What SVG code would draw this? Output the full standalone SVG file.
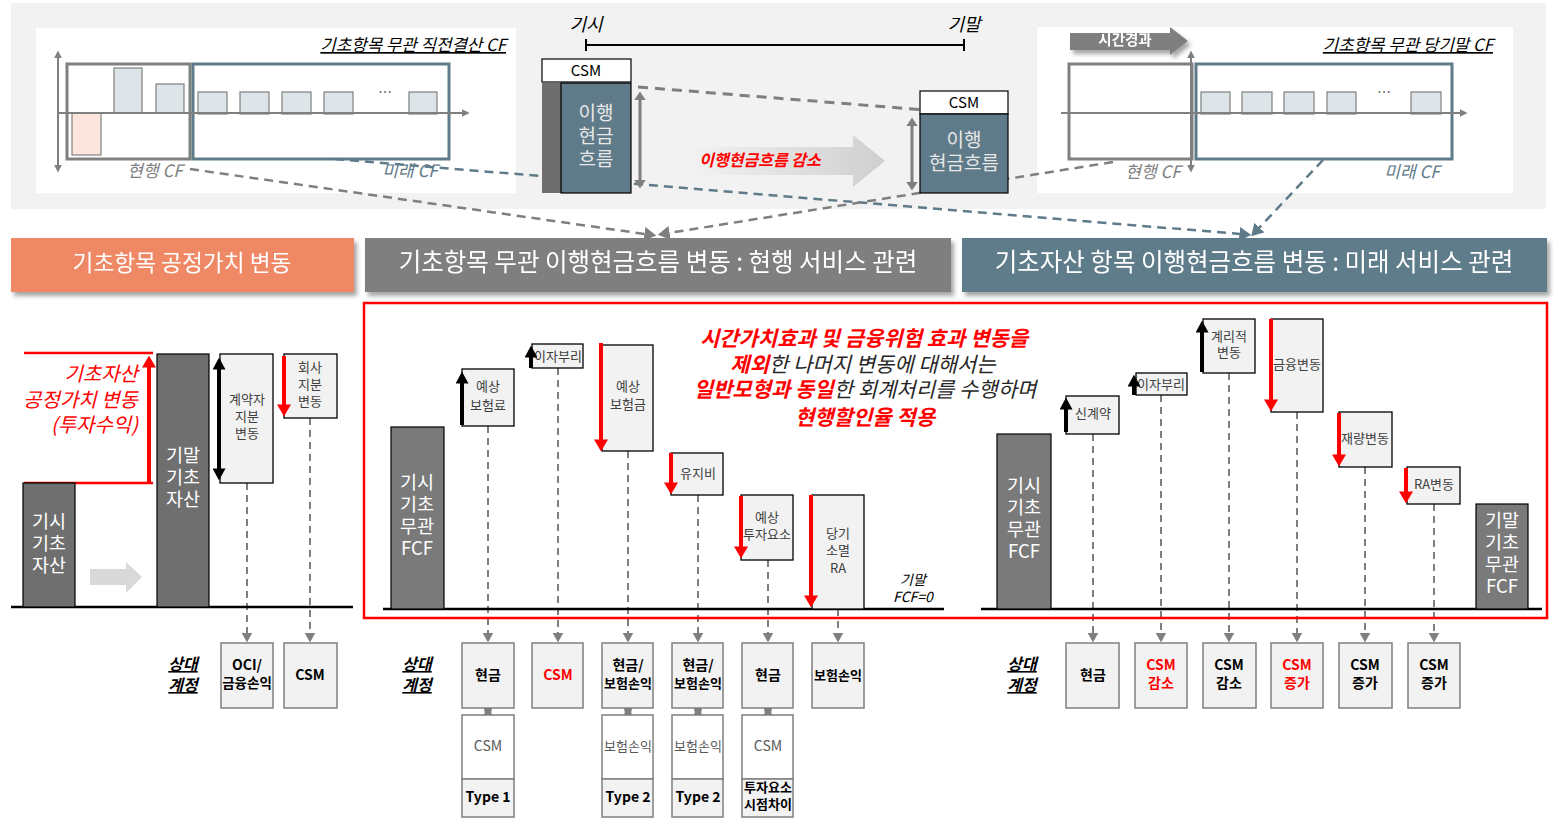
<svg xmlns="http://www.w3.org/2000/svg" width="1560" height="824" viewBox="0 0 1560 824">
<style>
text{font-family:"Noto Sans CJK KR","Noto Sans",sans-serif;text-anchor:middle}
.it{font-style:italic}
.b{font-weight:bold}
.lb{font-size:13px;fill:#404040}
.ac{font-size:14px;font-weight:bold;fill:#000}
.bar{font-size:18.5px;fill:#fff}
.rel{font-size:16px;font-style:italic;font-weight:bold;text-decoration:underline;fill:#000}
.box{fill:#f2f2f2;stroke:#000;stroke-width:1.3}
.abox{fill:#f2f2f2;stroke:#7f7f7f;stroke-width:1.5}
.dk{fill:#7a7a7a;stroke:#000;stroke-width:1.2}
.cfb{fill:#dee5e8;stroke:#7f7f7f;stroke-width:1.2}
.dash{stroke:#7f7f7f;stroke-width:2;stroke-dasharray:7 5;fill:none}
.tk{stroke-width:4;fill:none}
.red{stroke:#ff0000}
.blk{stroke:#000}
.ban{font-size:24.5px;fill:#fff}
</style>
<defs>
<filter id="sh" x="-5%" y="-20%" width="115%" height="160%"><feDropShadow dx="3" dy="4" stdDeviation="2" flood-color="#000" flood-opacity="0.35"/></filter>
<linearGradient id="gArr" x1="0" x2="1" y1="0" y2="0"><stop offset="0" stop-color="#f2f2f2"/><stop offset="1" stop-color="#cfcfcf"/></linearGradient>
<marker id="mr" viewBox="0 0 10 10" refX="0.5" refY="5" markerWidth="12" markerHeight="14" preserveAspectRatio="none" markerUnits="userSpaceOnUse" orient="auto-start-reverse"><path d="M0,0L10,5L0,10z" fill="#ff0000"/></marker>
<marker id="mb" viewBox="0 0 10 10" refX="0.5" refY="5" markerWidth="12" markerHeight="13" preserveAspectRatio="none" markerUnits="userSpaceOnUse" orient="auto-start-reverse"><path d="M0,0L10,5L0,10z" fill="#000"/></marker>
<marker id="mg" viewBox="0 0 10 10" refX="0.5" refY="5" markerWidth="9" markerHeight="12" preserveAspectRatio="none" markerUnits="userSpaceOnUse" orient="auto-start-reverse"><path d="M0,0L10,5L0,10z" fill="#7f7f7f"/></marker>
<marker id="mgd" viewBox="0 0 10 10" refX="0.5" refY="5" markerWidth="10" markerHeight="11" preserveAspectRatio="none" markerUnits="userSpaceOnUse" orient="auto-start-reverse"><path d="M0,0L10,5L0,10z" fill="#7f7f7f"/></marker>
<marker id="ma" viewBox="0 0 10 10" refX="0.5" refY="5" markerWidth="8" markerHeight="8" preserveAspectRatio="none" markerUnits="userSpaceOnUse" orient="auto-start-reverse"><path d="M0,0L10,5L0,10z" fill="#7f7f7f"/></marker>
<marker id="mtg" viewBox="0 0 10 10" refX="0.5" refY="5" markerWidth="12" markerHeight="14" preserveAspectRatio="none" markerUnits="userSpaceOnUse" orient="auto"><path d="M0,0L10,5L0,10z" fill="#7f7f7f"/></marker>
<marker id="mtb" viewBox="0 0 10 10" refX="0.5" refY="5" markerWidth="12" markerHeight="14" preserveAspectRatio="none" markerUnits="userSpaceOnUse" orient="auto"><path d="M0,0L10,5L0,10z" fill="#5f7a88"/></marker>
</defs>

<rect x="11" y="3" width="1535" height="206" fill="#f2f2f2"/>

<g id="cf-prev">
<rect x="36" y="28" width="480" height="165" fill="#fff"/>
<text x="506" y="51" class="it" font-size="16.8" text-decoration="underline" style="text-anchor:end">기초항목 무관 직전결산 CF</text>
<rect x="72" y="113" width="29" height="42" fill="#fbe5dc" stroke="#7f7f7f" stroke-width="1.2"/>
<rect x="114" y="68" width="28" height="45" class="cfb"/>
<rect x="156" y="84" width="28" height="29" class="cfb"/>
<rect x="198" y="92" width="29" height="22" class="cfb"/>
<rect x="240" y="92" width="29" height="22" class="cfb"/>
<rect x="282" y="92" width="29" height="22" class="cfb"/>
<rect x="324" y="92" width="29" height="22" class="cfb"/>
<rect x="409" y="92" width="28" height="22" class="cfb"/>
<text x="385" y="97" font-size="14" fill="#404040">…</text>
<rect x="67" y="64" width="123" height="95" fill="none" stroke="#808080" stroke-width="3"/>
<rect x="193" y="64" width="256" height="95" fill="none" stroke="#5f7a88" stroke-width="3"/>
<line x1="58" y1="58" x2="58" y2="165" stroke="#7f7f7f" stroke-width="2" marker-start="url(#ma)" marker-end="url(#ma)"/>
<line x1="58" y1="113" x2="462" y2="113" stroke="#7f7f7f" stroke-width="2" marker-end="url(#ma)"/>
<text x="155" y="177" class="it" font-size="17" fill="#808080">현행 CF</text>
<text x="410" y="177" class="it" font-size="17" fill="#5f7a88">미래 CF</text>
</g>

<g id="cf-end">
<rect x="1037" y="27" width="476" height="166" fill="#fff"/>
<text x="1493" y="51" class="it" font-size="16.8" text-decoration="underline" style="text-anchor:end">기초항목 무관 당기말 CF</text>
<rect x="1201" y="92" width="29" height="22" class="cfb"/>
<rect x="1242" y="92" width="30" height="22" class="cfb"/>
<rect x="1284" y="92" width="30" height="22" class="cfb"/>
<rect x="1327" y="92" width="29" height="22" class="cfb"/>
<rect x="1411" y="92" width="30" height="22" class="cfb"/>
<text x="1384" y="97" font-size="14" fill="#404040">…</text>
<rect x="1069" y="64" width="123" height="95" fill="none" stroke="#808080" stroke-width="3"/>
<rect x="1196" y="64" width="256" height="95" fill="none" stroke="#5f7a88" stroke-width="3"/>
<line x1="1191" y1="58" x2="1191" y2="165" stroke="#7f7f7f" stroke-width="2" marker-start="url(#ma)" marker-end="url(#ma)"/>
<line x1="1061" y1="113" x2="1460" y2="113" stroke="#7f7f7f" stroke-width="2" marker-end="url(#ma)"/>
<text x="1153" y="178" class="it" font-size="17" fill="#808080">현행 CF</text>
<text x="1412" y="178" class="it" font-size="17" fill="#5f7a88">미래 CF</text>
<g id="time-arrow" filter="url(#sh)">
<polygon points="1070,33 1170,33 1170,27 1188,41 1170,55 1170,50 1070,50" fill="#7f7f7f"/>
<text x="1125" y="45" font-size="14.5" class="b" fill="#fff">시간경과</text>
</g>
</g>

<g id="connectors">
<line x1="190" y1="169" x2="645" y2="234" class="dash" style="stroke-width:2.5;stroke-dasharray:9 6" marker-end="url(#mtg)"/>
<line x1="335" y1="159" x2="1240" y2="234" class="dash" style="stroke:#5f7a88;stroke-width:2.5;stroke-dasharray:9 6" marker-end="url(#mtb)"/>
<line x1="1113" y1="162" x2="669" y2="233" class="dash" style="stroke-width:2.5;stroke-dasharray:9 6" marker-end="url(#mtg)"/>
<line x1="1323" y1="160" x2="1259" y2="228" class="dash" style="stroke:#5f7a88;stroke-width:2.5;stroke-dasharray:9 6" marker-end="url(#mtb)"/>
<line x1="638" y1="87" x2="963" y2="113" class="dash" style="stroke-width:3;stroke-dasharray:10 7"/>
<line x1="247" y1="483" x2="247" y2="633" class="dash" marker-end="url(#mgd)"/>
<line x1="310" y1="418" x2="310" y2="633" class="dash" marker-end="url(#mgd)"/>
<line x1="488" y1="426" x2="488" y2="633" class="dash" marker-end="url(#mgd)"/>
<line x1="558" y1="368" x2="558" y2="633" class="dash" marker-end="url(#mgd)"/>
<line x1="628" y1="451" x2="628" y2="633" class="dash" marker-end="url(#mgd)"/>
<line x1="698" y1="495" x2="698" y2="633" class="dash" marker-end="url(#mgd)"/>
<line x1="768" y1="560" x2="768" y2="633" class="dash" marker-end="url(#mgd)"/>
<line x1="838" y1="609" x2="838" y2="633" class="dash" marker-end="url(#mgd)"/>
<line x1="1093" y1="434" x2="1093" y2="633" class="dash" marker-end="url(#mgd)"/>
<line x1="1161" y1="395" x2="1161" y2="633" class="dash" marker-end="url(#mgd)"/>
<line x1="1229" y1="373" x2="1229" y2="633" class="dash" marker-end="url(#mgd)"/>
<line x1="1297" y1="412" x2="1297" y2="633" class="dash" marker-end="url(#mgd)"/>
<line x1="1365" y1="467" x2="1365" y2="633" class="dash" marker-end="url(#mgd)"/>
<line x1="1434" y1="504" x2="1434" y2="633" class="dash" marker-end="url(#mgd)"/>
<g fill="#7f7f7f">
<circle cx="488" cy="709.5" r="3.8"/><circle cx="488" cy="714.5" r="3.8"/>
<circle cx="628" cy="709.5" r="3.8"/><circle cx="628" cy="714.5" r="3.8"/>
<circle cx="698" cy="709.5" r="3.8"/><circle cx="698" cy="714.5" r="3.8"/>
<circle cx="768" cy="709.5" r="3.8"/><circle cx="768" cy="714.5" r="3.8"/>
</g>
</g>

<g id="cf-mid">
<text x="586" y="31" class="it" font-size="18">기시</text>
<text x="964" y="31" class="it" font-size="18">기말</text>
<line x1="586" y1="45" x2="964" y2="45" stroke="#000" stroke-width="2"/>
<line x1="586" y1="39" x2="586" y2="51" stroke="#000" stroke-width="2"/>
<line x1="964" y1="39" x2="964" y2="51" stroke="#000" stroke-width="2"/>
<rect x="542" y="59" width="89" height="23" fill="#fff" stroke="#000" stroke-width="1.2"/>
<text x="586" y="76" font-size="15" fill="#000">CSM</text>
<rect x="542" y="83" width="19" height="110" fill="#6e6e6e"/>
<rect x="561" y="83" width="70" height="110" fill="#5f7a88" stroke="#000" stroke-width="1.2"/>
<text font-size="19" fill="#e8e8e8"><tspan x="596" y="120">이행</tspan><tspan x="596" y="143">현금</tspan><tspan x="596" y="166">흐름</tspan></text>
<line x1="640" y1="100" x2="640" y2="180" stroke="#7f7f7f" stroke-width="3" marker-start="url(#mg)" marker-end="url(#mg)"/>
<polygon points="690,147 853,147 853,135 885,161 853,187 853,175 690,175" fill="url(#gArr)"/>
<text x="760" y="166" class="it b" font-size="16" fill="#ff0000">이행현금흐름 감소</text>
<rect x="920" y="91" width="88" height="23" fill="#fff" stroke="#000" stroke-width="1.2"/>
<text x="964" y="108" font-size="15" fill="#000">CSM</text>
<rect x="920" y="114" width="88" height="79" fill="#5f7a88" stroke="#000" stroke-width="1.2"/>
<text font-size="19" fill="#e8e8e8"><tspan x="964" y="147">이행</tspan><tspan x="964" y="170">현금흐름</tspan></text>
<line x1="912" y1="126" x2="912" y2="182" stroke="#7f7f7f" stroke-width="3" marker-start="url(#mg)" marker-end="url(#mg)"/>
</g>

<g id="banner-fv" filter="url(#sh)">
<rect x="11" y="238" width="343" height="54" fill="#ef8865"/>
<text x="182" y="271" class="ban" style="font-size:22.7px">기초항목 공정가치 변동</text>
</g>
<g id="banner-current" filter="url(#sh)">
<rect x="365" y="238" width="586" height="54" fill="#7f7f7f"/>
<text x="658" y="271" class="ban">기초항목 무관 이행현금흐름 변동 : 현행 서비스 관련</text>
</g>
<g id="banner-future" filter="url(#sh)">
<rect x="962" y="238" width="585" height="54" fill="#5f7b8a"/>
<text x="1254" y="271" class="ban">기초자산 항목 이행현금흐름 변동 : 미래 서비스 관련</text>
</g>

<rect id="focus-frame" x="364" y="303" width="1183" height="315" fill="none" stroke="#ff0000" stroke-width="2.5"/>

<g id="left-section">
<line x1="11" y1="607" x2="353" y2="607" stroke="#000" stroke-width="2.5"/>
<line x1="24" y1="353" x2="153" y2="353" stroke="#ff0000" stroke-width="2.5"/>
<line x1="24" y1="483" x2="153" y2="483" stroke="#ff0000" stroke-width="2.5"/>
<line x1="149" y1="483" x2="149" y2="367" class="tk red" marker-end="url(#mr)"/>
<text class="it" font-size="20" fill="#ff0000" style="text-anchor:end"><tspan x="138" y="381">기초자산</tspan><tspan x="138" y="407">공정가치 변동</tspan><tspan x="138" y="432">(투자수익)</tspan></text>
<polygon points="90,569 126,569 126,562 142,577 126,593 126,585 90,585" fill="#d9d9d9"/>
</g>
<g id="bar-begin-asset">
<rect x="23" y="483" width="52" height="124" fill="#6f6f6f" stroke="#000" stroke-width="1.2"/>
<text class="bar"><tspan x="49" y="528">기시</tspan><tspan x="49" y="550">기초</tspan><tspan x="49" y="572">자산</tspan></text>
</g>
<g id="bar-end-asset">
<rect x="157" y="354" width="52" height="253" fill="#6f6f6f" stroke="#000" stroke-width="1.2"/>
<text class="bar"><tspan x="183" y="462">기말</tspan><tspan x="183" y="484">기초</tspan><tspan x="183" y="506">자산</tspan></text>
</g>
<g id="holder-share">
<rect x="220" y="354" width="53" height="129" class="box"/>
<text class="lb"><tspan x="247" y="404">계약자</tspan><tspan x="247" y="421">지분</tspan><tspan x="247" y="438">변동</tspan></text>
<line x1="219" y1="369" x2="219" y2="469" class="tk blk" marker-start="url(#mb)" marker-end="url(#mb)"/>
</g>
<g id="company-share">
<rect x="284" y="354" width="53" height="64" class="box"/>
<text class="lb"><tspan x="310" y="372">회사</tspan><tspan x="310" y="389">지분</tspan><tspan x="310" y="406">변동</tspan></text>
<line x1="284" y1="356" x2="284" y2="405" class="tk red" marker-end="url(#mr)"/>
</g>
<text class="rel"><tspan x="183" y="670">상대</tspan><tspan x="183" y="691">계정</tspan></text>
<g id="acc-oci"><rect x="221" y="643" width="52" height="65" class="abox"/><text class="ac"><tspan x="247" y="670">OCI/</tspan><tspan x="247" y="688" style="font-size:13.5px">금융손익</tspan></text></g>
<g id="acc-csm-l"><rect x="284" y="643" width="53" height="65" class="abox"/><text x="310" y="680" class="ac">CSM</text></g>

<g id="mid-section">
<line x1="383" y1="609" x2="944" y2="609" stroke="#000" stroke-width="2.5"/>
<text class="it" font-size="14"><tspan x="913" y="585">기말</tspan><tspan x="913" y="602">FCF=0</tspan></text>
<text font-size="21" class="it" fill="#262626"><tspan x="864" y="346" fill="#ff0000" font-weight="bold">시간가치효과 및 금융위험 효과 변동을</tspan><tspan x="863" y="371.5"><tspan fill="#ff0000" font-weight="bold">제외</tspan>한 나머지 변동에 대해서는</tspan><tspan x="865" y="397"><tspan fill="#ff0000" font-weight="bold">일반모형과 동일</tspan>한 회계처리를 수행하며</tspan><tspan x="865" y="425" fill="#ff0000" font-weight="bold">현행할인율 적용</tspan></text>
</g>
<g id="bar-begin-fcf">
<rect x="391" y="427" width="53" height="182" class="dk"/>
<text class="bar"><tspan x="417" y="489">기시</tspan><tspan x="417" y="511">기초</tspan><tspan x="417" y="533">무관</tspan><tspan x="417" y="555">FCF</tspan></text>
</g>
<g id="exp-premium">
<rect x="462" y="369" width="52" height="57" class="box"/>
<text class="lb"><tspan x="488" y="391">예상</tspan><tspan x="488" y="410">보험료</tspan></text>
<line x1="462" y1="425" x2="462" y2="383" class="tk blk" marker-end="url(#mb)"/>
</g>
<g id="interest-1">
<rect x="532" y="344" width="51" height="24" class="box"/>
<text x="558" y="361" class="lb">이자부리</text>
<line x1="531" y1="368" x2="531" y2="357" class="tk blk" marker-end="url(#mb)"/>
</g>
<g id="exp-claims">
<rect x="602" y="345" width="51" height="106" class="box"/>
<text class="lb"><tspan x="628" y="391">예상</tspan><tspan x="628" y="409">보험금</tspan></text>
<line x1="601" y1="343" x2="601" y2="440" class="tk red" marker-end="url(#mr)"/>
</g>
<g id="maintenance">
<rect x="671" y="453" width="52" height="42" class="box"/>
<text x="698" y="478" class="lb">유지비</text>
<line x1="671" y1="453" x2="671" y2="483" class="tk red" marker-end="url(#mr)"/>
</g>
<g id="exp-invest">
<rect x="741" y="495" width="52" height="65" class="box"/>
<text class="lb"><tspan x="767" y="522">예상</tspan><tspan x="767" y="539">투자요소</tspan></text>
<line x1="741" y1="496" x2="741" y2="547" class="tk red" marker-end="url(#mr)"/>
</g>
<g id="ra-release">
<rect x="812" y="495" width="52" height="114" class="box"/>
<text class="lb"><tspan x="838" y="538">당기</tspan><tspan x="838" y="555">소멸</tspan><tspan x="838" y="573">RA</tspan></text>
<line x1="811" y1="495" x2="811" y2="596" class="tk red" marker-end="url(#mr)"/>
</g>

<text class="rel"><tspan x="417" y="670">상대</tspan><tspan x="417" y="691">계정</tspan></text>
<g id="acc-m1">
<rect x="462" y="643" width="52" height="65" class="abox"/><text x="488" y="680" class="ac">현금</text>
<rect x="462" y="715" width="52" height="64" fill="#fff" stroke="#7f7f7f" stroke-width="1.5"/><text x="488" y="751" font-size="14" fill="#595959">CSM</text>
<rect x="462" y="779" width="52" height="38" class="abox"/><text x="488" y="802" class="ac">Type 1</text>
</g>
<g id="acc-m2"><rect x="532" y="643" width="51" height="65" class="abox"/><text x="558" y="680" class="ac" style="fill:#ff0000">CSM</text></g>
<g id="acc-m3">
<rect x="602" y="643" width="51" height="65" class="abox"/><text class="ac"><tspan x="628" y="670">현금/</tspan><tspan x="628" y="688" style="font-size:13px">보험손익</tspan></text>
<rect x="602" y="715" width="51" height="64" fill="#fff" stroke="#7f7f7f" stroke-width="1.5"/><text x="628" y="751" font-size="13" fill="#595959">보험손익</text>
<rect x="602" y="779" width="51" height="38" class="abox"/><text x="628" y="802" class="ac">Type 2</text>
</g>
<g id="acc-m4">
<rect x="672" y="643" width="51" height="65" class="abox"/><text class="ac"><tspan x="698" y="670">현금/</tspan><tspan x="698" y="688" style="font-size:13px">보험손익</tspan></text>
<rect x="672" y="715" width="51" height="64" fill="#fff" stroke="#7f7f7f" stroke-width="1.5"/><text x="698" y="751" font-size="13" fill="#595959">보험손익</text>
<rect x="672" y="779" width="51" height="38" class="abox"/><text x="698" y="802" class="ac">Type 2</text>
</g>
<g id="acc-m5">
<rect x="742" y="643" width="51" height="65" class="abox"/><text x="768" y="680" class="ac">현금</text>
<rect x="742" y="715" width="51" height="64" fill="#fff" stroke="#7f7f7f" stroke-width="1.5"/><text x="768" y="751" font-size="14" fill="#595959">CSM</text>
<rect x="742" y="779" width="51" height="38" class="abox"/><text class="ac" style="font-size:13px"><tspan x="768" y="792">투자요소</tspan><tspan x="768" y="809">시점차이</tspan></text>
</g>
<g id="acc-m6"><rect x="812" y="643" width="52" height="65" class="abox"/><text x="838" y="680" class="ac" style="font-size:13px">보험손익</text></g>

<g id="right-section">
<line x1="981" y1="609" x2="1542" y2="609" stroke="#000" stroke-width="2.5"/>
</g>
<g id="bar-begin-fcf-r">
<rect x="997" y="434" width="54" height="175" class="dk"/>
<text class="bar"><tspan x="1024" y="492">기시</tspan><tspan x="1024" y="514">기초</tspan><tspan x="1024" y="536">무관</tspan><tspan x="1024" y="558">FCF</tspan></text>
</g>
<g id="new-contract">
<rect x="1066" y="396" width="53" height="38" class="box"/>
<text x="1093" y="418" class="lb">신계약</text>
<line x1="1066" y1="432" x2="1066" y2="409" class="tk blk" marker-end="url(#mb)"/>
</g>
<g id="interest-2">
<rect x="1136" y="373" width="51" height="22" class="box"/>
<text x="1161" y="389" class="lb">이자부리</text>
<line x1="1134" y1="395" x2="1134" y2="386" class="tk blk" marker-end="url(#mb)"/>
</g>
<g id="actuarial">
<rect x="1203" y="319" width="52" height="54" class="box"/>
<text class="lb"><tspan x="1229" y="341">계리적</tspan><tspan x="1229" y="357">변동</tspan></text>
<line x1="1202" y1="372" x2="1202" y2="332" class="tk blk" marker-end="url(#mb)"/>
</g>
<g id="financial">
<rect x="1271" y="319" width="52" height="93" class="box"/>
<text x="1297" y="369" class="lb">금융변동</text>
<line x1="1271" y1="319" x2="1271" y2="400" class="tk red" marker-end="url(#mr)"/>
</g>
<g id="discretionary">
<rect x="1339" y="412" width="53" height="55" class="box"/>
<text x="1365" y="443" class="lb">재량변동</text>
<line x1="1339" y1="413" x2="1339" y2="455" class="tk red" marker-end="url(#mr)"/>
</g>
<g id="ra-change">
<rect x="1407" y="467" width="53" height="37" class="box"/>
<text x="1434" y="489" class="lb">RA변동</text>
<line x1="1406" y1="468" x2="1406" y2="492" class="tk red" marker-end="url(#mr)"/>
</g>
<g id="bar-end-fcf-r">
<rect x="1476" y="504" width="52" height="105" class="dk"/>
<text class="bar"><tspan x="1502" y="527">기말</tspan><tspan x="1502" y="549">기초</tspan><tspan x="1502" y="571">무관</tspan><tspan x="1502" y="593">FCF</tspan></text>
</g>

<text class="rel"><tspan x="1022" y="670">상대</tspan><tspan x="1022" y="691">계정</tspan></text>
<g id="acc-r1"><rect x="1066" y="643" width="53" height="65" class="abox"/><text x="1093" y="680" class="ac">현금</text></g>
<g id="acc-r2"><rect x="1135" y="643" width="52" height="65" class="abox"/><text class="ac" style="fill:#ff0000"><tspan x="1161" y="670">CSM</tspan><tspan x="1161" y="688">감소</tspan></text></g>
<g id="acc-r3"><rect x="1203" y="643" width="53" height="65" class="abox"/><text class="ac"><tspan x="1229" y="670">CSM</tspan><tspan x="1229" y="688">감소</tspan></text></g>
<g id="acc-r4"><rect x="1271" y="643" width="52" height="65" class="abox"/><text class="ac" style="fill:#ff0000"><tspan x="1297" y="670">CSM</tspan><tspan x="1297" y="688">증가</tspan></text></g>
<g id="acc-r5"><rect x="1339" y="643" width="53" height="65" class="abox"/><text class="ac"><tspan x="1365" y="670">CSM</tspan><tspan x="1365" y="688">증가</tspan></text></g>
<g id="acc-r6"><rect x="1408" y="643" width="52" height="65" class="abox"/><text class="ac"><tspan x="1434" y="670">CSM</tspan><tspan x="1434" y="688">증가</tspan></text></g>
</svg>
